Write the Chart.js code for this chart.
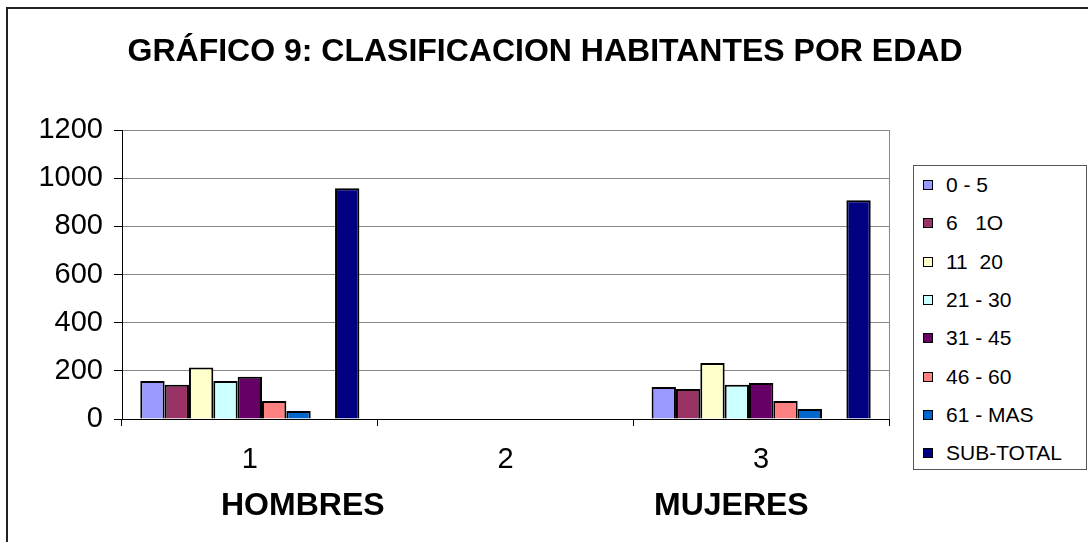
<!DOCTYPE html>
<html>
<head>
<meta charset="utf-8">
<script src="https://cdn.jsdelivr.net/npm/chart.js@4/dist/chart.umd.min.js"></script>
<style>
    body { margin: 0; background: #fff; font-family: "Liberation Sans", Arial, sans-serif; }
    #wrap { position: relative; width: 1088px; height: 542px; overflow: hidden; }
    #myChart { position: absolute; left: 0; top: 0; }
    #frame { position: absolute; left: 6px; top: 7px; width: 1100px; height: 600px;
             border-top: 2px solid #222; border-left: 2px solid #222; }
    #titulo { position: absolute; left: 0; top: 34px; width: 1090px; text-align: center;
              font-weight: bold; font-size: 32px; line-height: 32px; color: #000; white-space: nowrap; }
    .grupo { position: absolute; top: 488px; font-weight: bold; font-size: 32px; line-height: 32px; color: #000; }
    #legend { position: absolute; left: 913px; top: 165px; width: 172px; height: 303px;
              border: 1px solid #555; background: #fff; }
    .item { height: 38.3px; display: flex; align-items: center; font-size: 21px; white-space: pre; }
    .item span.box { width: 8px; height: 8px; border: 1px solid #000; margin: 0 13px 0 9px; }
</style>
</head>
<body>
<div id="wrap">
    <canvas id="myChart" width="1088" height="542"></canvas>
    <div id="frame"></div>
    <div id="titulo">GRÁFICO 9: CLASIFICACION HABITANTES POR EDAD</div>
    <div class="grupo" style="left:221px">HOMBRES</div>
    <div class="grupo" style="left:654px">MUJERES</div>
    <div id="legend"></div>
</div>
<script>
// Datos
const categorias = ['1', '2', '3'];
const rangos = ['0 - 5', '6   1O', '11  20', '21 - 30', '31 - 45', '46 - 60', '61 - MAS', '', 'SUB-TOTAL'];
const colores = ['#9999FF', '#993366', '#FFFFCC', '#CCFFFF', '#660066', '#FF8080', '#0066CC', '#FFFFFF', '#000080'];
const edad0a5 = [158, null, 133];
const edad6a10 = [142, null, 125];
const edad11a20 = [214, null, 233];
const edad21a30 = [158, null, 142];
const edad31a45 = [175, null, 150];
const edad46a60 = [75, null, 75];
const edad61mas = [33, null, 42];
const vacio = [null, null, null];
const subTotal = [958, null, 908];
const yTicks = [0, 200, 400, 600, 800, 1000, 1200];

const series = [edad0a5, edad6a10, edad11a20, edad21a30, edad31a45, edad46a60, edad61mas, vacio, subTotal];

// borde derecho del área de trazado
const bordePlot = {
    id: 'bordePlot',
    afterDraw(chart) {
        const a = chart.chartArea;
        const ctx = chart.ctx;
        ctx.save();
        ctx.strokeStyle = '#888';
        ctx.lineWidth = 1;
        ctx.beginPath();
        ctx.moveTo(a.right + 0.5, a.top);
        ctx.lineTo(a.right + 0.5, a.bottom);
        ctx.stroke();
        ctx.restore();
    }
};

Chart.defaults.font.family = '"Liberation Sans", Arial, sans-serif';
Chart.defaults.color = '#000';

const ctx = document.getElementById('myChart');
const config = {
    type: 'bar',
    data: {
        labels: categorias,
        datasets: series.map((s, i) => ({
            label: rangos[i],
            data: s,
            backgroundColor: colores[i],
            borderColor: '#000',
            borderWidth: 2,
            categoryPercentage: 0.857,
            barPercentage: 1.0
        }))
    },
    options: {
        responsive: false,
        animation: false,
        layout: { padding: { left: 0, right: 199, top: 130, bottom: 0 } },
        plugins: {
            legend: { display: false },
            tooltip: { enabled: false }
        },
        scales: {
            x: {
                grid: { drawOnChartArea: false, tickLength: 7, tickColor: '#000' },
                border: { color: '#000', width: 1 },
                ticks: { font: { size: 29 }, padding: 17 },
                afterFit: s => { s.height = 123; }
            },
            y: {
                min: 0,
                max: 1200,
                afterBuildTicks: s => { s.ticks = yTicks.map(v => ({ value: v })); },
                grid: { color: '#888', tickLength: 8, tickColor: '#000' },
                border: { color: '#000', width: 1 },
                ticks: { font: { size: 29 }, padding: 11, callback: v => String(v) },
                afterFit: s => { s.width = 122; }
            }
        }
    },
    plugins: [bordePlot]
};

let chart = new Chart(ctx, config);

// Leyenda
const legend = document.getElementById('legend');
rangos.forEach((r, i) => {
    if (r === '') return;
    const item = document.createElement('div');
    item.className = 'item';
    const box = document.createElement('span');
    box.className = 'box';
    box.style.background = colores[i];
    item.appendChild(box);
    item.appendChild(document.createTextNode(r));
    legend.appendChild(item);
});
</script>
</body>
</html>
